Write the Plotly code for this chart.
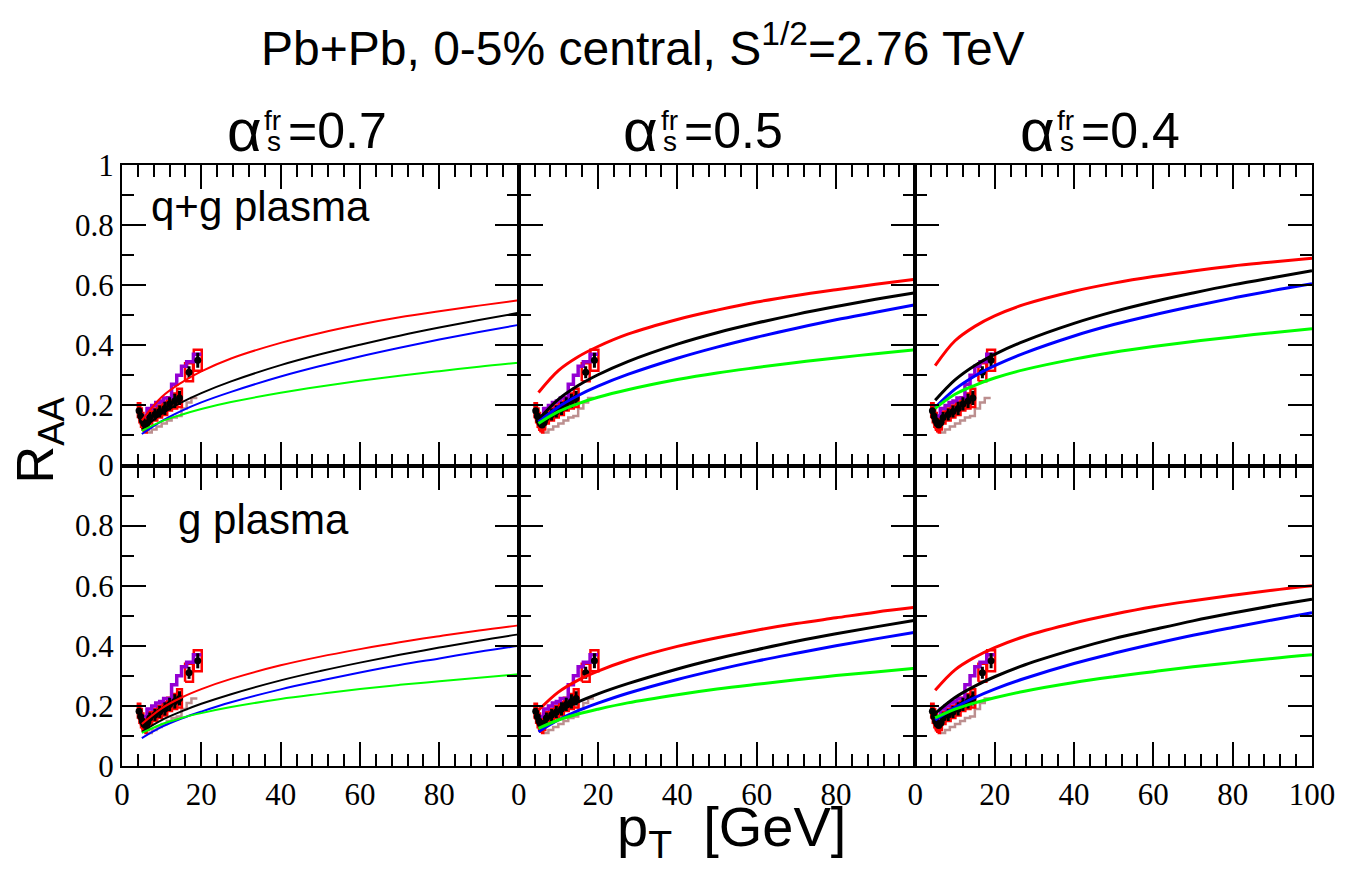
import plotly.graph_objects as go
from plotly.subplots import make_subplots

# ---------------- data ----------------
curve_pt = [5, 10, 15, 20, 27.5, 40, 50, 60, 70, 80, 90, 100]

# top row: q+g plasma ; bottom row: g plasma ; columns alpha = 0.7, 0.5, 0.4
qg07_red   = [0.15, 0.228, 0.276, 0.313, 0.356, 0.408, 0.441, 0.469, 0.493, 0.513, 0.532, 0.55]
qg07_black = [0.12, 0.172, 0.21, 0.241, 0.28, 0.334, 0.37, 0.402, 0.432, 0.459, 0.484, 0.508]
qg07_blue  = [0.105, 0.148, 0.182, 0.210, 0.245, 0.296, 0.331, 0.363, 0.392, 0.419, 0.444, 0.468]
qg07_green = [0.115, 0.147, 0.169, 0.188, 0.211, 0.242, 0.263, 0.282, 0.299, 0.314, 0.329, 0.342]

qg05_red   = [0.243, 0.316, 0.362, 0.396, 0.437, 0.486, 0.517, 0.544, 0.566, 0.585, 0.603, 0.62]
qg05_black = [0.153, 0.22, 0.266, 0.302, 0.346, 0.404, 0.442, 0.474, 0.503, 0.529, 0.553, 0.575]
qg05_blue  = [0.145, 0.195, 0.233, 0.264, 0.303, 0.357, 0.394, 0.427, 0.457, 0.485, 0.510, 0.535]
qg05_green = [0.14, 0.179, 0.206, 0.227, 0.252, 0.286, 0.308, 0.326, 0.343, 0.358, 0.372, 0.385]

qg04_red   = [0.332, 0.415, 0.463, 0.498, 0.536, 0.58, 0.607, 0.629, 0.647, 0.664, 0.677, 0.69]
qg04_black = [0.217, 0.285, 0.333, 0.37, 0.414, 0.473, 0.512, 0.545, 0.574, 0.601, 0.625, 0.648]
qg04_blue  = [0.193, 0.254, 0.298, 0.332, 0.374, 0.431, 0.469, 0.501, 0.530, 0.557, 0.582, 0.605]
qg04_green = [0.19, 0.237, 0.267, 0.291, 0.319, 0.354, 0.377, 0.396, 0.413, 0.428, 0.442, 0.455]

g07_red   = [0.14, 0.192, 0.228, 0.256, 0.29, 0.335, 0.364, 0.389, 0.412, 0.432, 0.451, 0.468]
g07_black = [0.114, 0.153, 0.182, 0.207, 0.239, 0.285, 0.316, 0.344, 0.37, 0.394, 0.417, 0.438]
g07_blue  = [0.093, 0.130, 0.158, 0.181, 0.212, 0.255, 0.284, 0.311, 0.336, 0.358, 0.380, 0.40]
g07_green = [0.11, 0.139, 0.16, 0.176, 0.196, 0.223, 0.240, 0.256, 0.27, 0.282, 0.294, 0.305]

g05_red   = [0.186, 0.246, 0.286, 0.316, 0.352, 0.398, 0.427, 0.452, 0.474, 0.493, 0.512, 0.528]
g05_black = [0.136, 0.18, 0.213, 0.24, 0.274, 0.323, 0.357, 0.387, 0.415, 0.44, 0.463, 0.485]
g05_blue  = [0.114, 0.153, 0.184, 0.209, 0.242, 0.288, 0.32, 0.349, 0.375, 0.40, 0.423, 0.445]
g05_green = [0.125, 0.153, 0.173, 0.189, 0.21, 0.237, 0.256, 0.272, 0.287, 0.301, 0.313, 0.325]

g04_red   = [0.252, 0.32, 0.362, 0.394, 0.431, 0.476, 0.505, 0.53, 0.55, 0.568, 0.585, 0.60]
g04_black = [0.175, 0.228, 0.266, 0.297, 0.336, 0.388, 0.424, 0.454, 0.483, 0.509, 0.533, 0.555]
g04_blue  = [0.153, 0.195, 0.228, 0.256, 0.291, 0.341, 0.375, 0.406, 0.435, 0.461, 0.486, 0.51]
g04_green = [0.16, 0.189, 0.21, 0.227, 0.249, 0.278, 0.297, 0.314, 0.33, 0.344, 0.358, 0.37]

# measured R_AA (black points, stat errors, red systematic boxes)
data_pt   = [4.3, 4.7, 5.1, 5.5, 5.9, 6.4, 7.0, 8.3, 9.5, 10.8, 12.0, 13.3, 14.5, 16.9, 19.1]
data_raa  = [0.182, 0.165, 0.15, 0.14, 0.135, 0.142, 0.16, 0.17, 0.18, 0.19, 0.205, 0.215, 0.225, 0.31, 0.35]
data_stat = [0.004, 0.004, 0.004, 0.004, 0.004, 0.005, 0.018, 0.02, 0.02, 0.022, 0.022, 0.024, 0.024, 0.02, 0.025]
data_sys  = [0.025, 0.025, 0.025, 0.025, 0.025, 0.022, 0.02, 0.02, 0.02, 0.022, 0.022, 0.025, 0.03, 0.03, 0.035]
data_binhw = [0.3, 0.3, 0.3, 0.3, 0.3, 0.3, 0.6, 0.6, 0.6, 0.6, 0.6, 0.6, 0.6, 1.0, 1.0]

# step histograms
purple_edges = [5.0, 6.3, 7.5, 8.5, 9.5, 10.5, 12.5, 13.8, 15.0, 16.3, 18.0, 20.0]
purple_vals  = [0.165, 0.19, 0.20, 0.21, 0.215, 0.225, 0.27, 0.30, 0.33, 0.345, 0.37]
brown_edges = [6.3, 7.5, 8.7, 10.0, 11.3, 12.5, 13.8, 15.0, 16.3, 17.5, 19.0]
brown_vals  = [0.11, 0.12, 0.13, 0.14, 0.15, 0.16, 0.165, 0.19, 0.21, 0.225]

alpha_labels = ["0.7", "0.5", "0.4"]
row_labels = ["q+g plasma", "g plasma"]
y_ticks = [0, 0.2, 0.4, 0.6, 0.8, 1.0]
x_ticks = [0, 20, 40, 60, 80, 100]

panels = {
    (1, 1): (qg07_red, qg07_black, qg07_blue, qg07_green),
    (1, 2): (qg05_red, qg05_black, qg05_blue, qg05_green),
    (1, 3): (qg04_red, qg04_black, qg04_blue, qg04_green),
    (2, 1): (g07_red, g07_black, g07_blue, g07_green),
    (2, 2): (g05_red, g05_black, g05_blue, g05_green),
    (2, 3): (g04_red, g04_black, g04_blue, g04_green),
}

# ---------------- figure ----------------
W, H = 1347, 871
ML, MR, MT, MB = 122, 29, 165, 105
PW, PH = W - ML - MR, H - MT - MB

def px(x):
    return (x - ML) / PW

def py(y):
    return (H - MB - y) / PH

fig = make_subplots(rows=2, cols=3, horizontal_spacing=0, vertical_spacing=0)

# systematic boxes path
box_x, box_y = [], []
for x, y, s, w in zip(data_pt, data_raa, data_sys, data_binhw):
    box_x += [x - w, x + w, x + w, x - w, x - w, None]
    box_y += [y - s, y - s, y + s, y + s, y - s, None]

purple_y = purple_vals + [purple_vals[-1]]
brown_y = brown_vals + [brown_vals[-1]]

curve_colors = ["#ff0000", "#000000", "#0000ff", "#00ff00"]

for (r, c), curves in panels.items():
    lw = 2 if c == 1 else 3
    fig.add_trace(go.Scatter(x=brown_edges, y=brown_y, mode="lines", line=dict(color="#bc8f8f", width=2.5, shape="hv"),
                             showlegend=False, hoverinfo="skip"), row=r, col=c)
    fig.add_trace(go.Scatter(x=box_x, y=box_y, mode="lines", line=dict(color="#ff0000", width=2.5),
                             showlegend=False, hoverinfo="skip"), row=r, col=c)
    fig.add_trace(go.Scatter(x=purple_edges, y=purple_y, mode="lines", line=dict(color="#9400d3", width=3.5, shape="hv"),
                             showlegend=False, hoverinfo="skip"), row=r, col=c)
    fig.add_trace(go.Scatter(x=data_pt, y=data_raa, mode="markers",
                             marker=dict(color="black", size=7, symbol="circle"),
                             error_y=dict(type="data", array=data_stat, color="black", thickness=3, width=0),
                             showlegend=False), row=r, col=c)
    for vals, col in zip(curves, curve_colors):
        fig.add_trace(go.Scatter(x=curve_pt, y=vals, mode="lines", line=dict(color=col, width=lw, shape="spline", smoothing=1.0),
                                 showlegend=False), row=r, col=c)

tickfont = dict(family="Liberation Serif, Times New Roman, serif", size=31, color="black")

for r in (1, 2):
    for c in (1, 2, 3):
        xt = x_ticks if c == 3 else x_ticks[:-1]
        fig.update_xaxes(range=[0, 100], showline=True, mirror="allticks", linecolor="black", linewidth=2,
                         ticks="inside", ticklen=24, tickwidth=2, tickcolor="black",
                         tickvals=xt, ticktext=[str(v) for v in xt],
                         showticklabels=(r == 2), tickfont=tickfont,
                         minor=dict(ticks="inside", ticklen=12, tickwidth=2, tickcolor="black", dtick=4, tick0=0),
                         showgrid=False, zeroline=False, row=r, col=c)
        yt = y_ticks if r == 1 else y_ticks[:-1]
        fig.update_yaxes(range=[0, 1], showline=True, mirror="allticks", linecolor="black", linewidth=2,
                         ticks="inside", ticklen=24, tickwidth=2, tickcolor="black",
                         tickvals=yt, ticktext=[("%g" % v) for v in yt],
                         showticklabels=(c == 1), tickfont=tickfont,
                         minor=dict(ticks="inside", ticklen=12, tickwidth=2, tickcolor="black", dtick=0.1, tick0=0),
                         showgrid=False, zeroline=False, row=r, col=c)

sans = "Liberation Sans, Arial, Helvetica, sans-serif"
ann = []
ann.append(dict(text="Pb+Pb, 0-5% central, S<sup>1/2</sup>=2.76 TeV", x=px(646), y=py(45),
                xref="paper", yref="paper", showarrow=False, xanchor="center", yanchor="middle",
                font=dict(family=sans, size=48, color="black")))
for i, a in enumerate(alpha_labels):
    tc = ML + PW * (i + 0.5) / 3 - 15
    ann.append(dict(text="α", x=px(tc - 42), y=py(130), xref="paper", yref="paper", showarrow=False,
                    xanchor="right", yanchor="middle", font=dict(family=sans, size=60, color="black")))
    ann.append(dict(text="fr", x=px(tc - 33), y=py(120), xref="paper", yref="paper", showarrow=False,
                    xanchor="center", yanchor="middle", font=dict(family=sans, size=28, color="black")))
    ann.append(dict(text="s", x=px(tc - 32), y=py(141), xref="paper", yref="paper", showarrow=False,
                    xanchor="center", yanchor="middle", font=dict(family=sans, size=28, color="black")))
    ann.append(dict(text="=" + a, x=px(tc - 20), y=py(131), xref="paper", yref="paper", showarrow=False,
                    xanchor="left", yanchor="middle", font=dict(family=sans, size=50, color="black")))
ann.append(dict(text=row_labels[0], x=px(261), y=py(206), xref="paper", yref="paper", showarrow=False,
                xanchor="center", yanchor="middle", font=dict(family=sans, size=42, color="black")))
ann.append(dict(text=row_labels[1], x=px(264), y=py(519), xref="paper", yref="paper", showarrow=False,
                xanchor="center", yanchor="middle", font=dict(family=sans, size=42, color="black")))
ann.append(dict(text="p<sub>T</sub>  [GeV]", x=px(735), y=py(830), xref="paper", yref="paper", showarrow=False,
                xanchor="center", yanchor="middle", font=dict(family=sans, size=56, color="black")))
ann.append(dict(text="R<sub>AA</sub>", x=px(39), y=py(440), xref="paper", yref="paper", showarrow=False,
                xanchor="center", yanchor="middle", textangle=-90, font=dict(family=sans, size=52, color="black")))

fig.update_layout(width=W, height=H, margin=dict(l=ML, r=MR, t=MT, b=MB, pad=0),
                  paper_bgcolor="white", plot_bgcolor="white", annotations=ann, showlegend=False)

fig.write_html("out.html", config={"displayModeBar": False},
               post_script="document.body.style.margin='0px';document.body.style.padding='0px';")
